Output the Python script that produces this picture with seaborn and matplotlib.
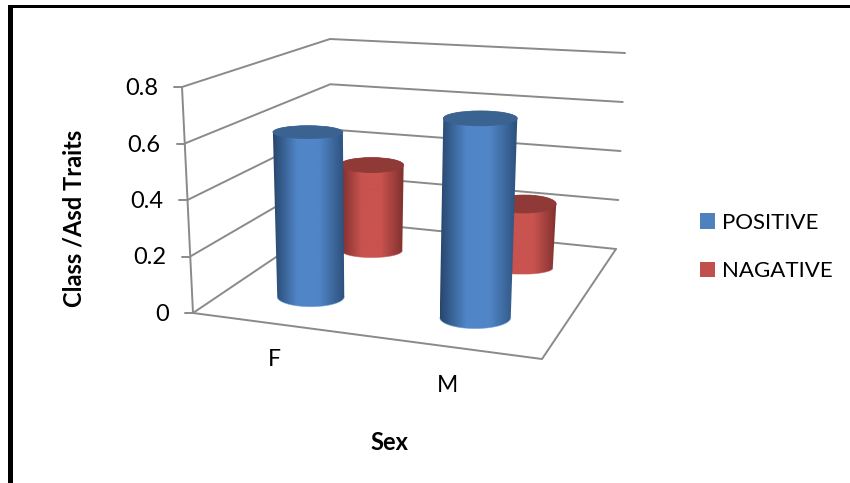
import numpy as np
import pandas as pd
import matplotlib
matplotlib.use("Agg")
import matplotlib.pyplot as plt
from matplotlib.colors import LinearSegmentedColormap
from matplotlib.patches import Patch, PathPatch, Ellipse, Rectangle
from matplotlib.path import Path
import seaborn as sns

categories = ["F", "M"]
series_names = ["POSITIVE", "NAGATIVE"]
positive = [0.61, 0.70]
negative = [0.352, 0.25]
z_ticks = [0, 0.2, 0.4, 0.6, 0.8]
z_labels = ["0", "0.2", "0.4", "0.6", "0.8"]

# --- look of the 3D box (screen position of its corners) -------------------
Z_MAX = 0.8
FLOOR = {"fl": (193, 313), "fr": (542, 359), "bl": (331, 220), "br": (616, 249)}
CEIL = {"fl": (182, 87), "fr": (553, 108), "bl": (330, 39), "br": (625, 53)}
CAT_POS = [0.25, 0.75]
DEPTH_POS = [0.25, 0.75]
HALF_W = {(0, 0): 35.0, (1, 0): 37.0, (0, 1): 32.0, (1, 1): 32.0}
B_TOP = {(0, 0): 6.5, (1, 0): 7.5, (0, 1): 7.5, (1, 1): 9.0}
B_BOT = {(0, 0): 10.0, (1, 0): 11.0, (0, 1): 7.0, (1, 1): 6.0}
NUDGE_X = {(0, 0): 0.0, (1, 0): -2.0, (0, 1): 0.0, (1, 1): 0.0}
BASE_LIFT = {(0, 0): 3.5, (1, 0): 3.5, (0, 1): 1.0, (1, 1): 0.0}
GRID = "#8a8a8a"


def project(u, v, z):
    def bil(c):
        f = (1 - u) * np.array(c["fl"], float) + u * np.array(c["fr"], float)
        b = (1 - u) * np.array(c["bl"], float) + u * np.array(c["br"], float)
        return (1 - v) * f + v * b
    t = z / Z_MAX
    return (1 - t) * bil(FLOOR) + t * bil(CEIL)


sns.set_theme(style="white", rc={"axes.grid": False})
plt.rcParams["font.family"] = ["Lato", "DejaVu Sans"]

fig = plt.figure(figsize=(8.5, 4.83), dpi=100, facecolor="white")
ax = fig.add_axes([0, 0, 1, 1])
ax.set_xlim(0, 850)
ax.set_ylim(483, 0)
ax.axis("off")

# page frame
ax.add_patch(Rectangle((8, 5), 5, 480, fc="black", ec="none", zorder=1))
ax.add_patch(Rectangle((8, 5), 842, 3, fc="black", ec="none", zorder=1))

# walls and floor
rows = []
def add_line(name, pts):
    for i, p in enumerate(pts):
        rows.append({"line": name, "order": i, "x": p[0], "y": p[1]})

for z in z_ticks:
    add_line(f"lvl{z}", [project(0, 0, z), project(0, 1, z), project(1, 1, z)])
    a = project(0, 0, z)
    add_line(f"tick{z}", [a - np.array([8, 0]), a])
add_line("vert", [project(0, 0, 0), project(0, 0, Z_MAX)])
add_line("floor", [project(0, 0, 0), project(1, 0, 0), project(1, 1, 0)])
grid_df = pd.DataFrame(rows)
sns.lineplot(data=grid_df, x="x", y="y", units="line", estimator=None, sort=False,
             color=GRID, linewidth=1.4, ax=ax, legend=False, zorder=2)
ax.set_xlim(0, 850)
ax.set_ylim(483, 0)
ax.axis("off")

# z tick labels
for z, lab in zip(z_ticks, z_labels):
    p = project(0, 0, z)
    ax.text(p[0] - 24, p[1] + 1.5, lab, ha="right", va="center", fontsize=17, color="black")

# category labels
LABEL_XY = [(274, 360), (448, 385)]
for lab, (x, y) in zip(categories, LABEL_XY):
    ax.text(x, y, lab, ha="center", va="center", fontsize=16.5, color="black")

ax.text(74, 218, "Class /Asd Traits", rotation=90, ha="center", va="center",
        fontsize=17, fontweight="bold", color="black")
ax.text(389, 442, "Sex", ha="center", va="center", fontsize=17, fontweight="bold", color="black")

STY = {
    0: dict(edge_l="#27466d", edge_r="#2d4f7a", mid="#5086c8", top="#3b6392", rim="#6a9ddc"),
    1: dict(edge_l="#7b2e2c", edge_r="#7e302e", mid="#c9534f", top="#8f3a37", rim="#cf5f5b"),
}


def cylinder(cat, ser, val, zorder):
    key = (cat, ser)
    u, v = CAT_POS[cat], DEPTH_POS[ser]
    bot = project(u, v, 0) + np.array([NUDGE_X[key], -BASE_LIFT[key]])
    top = project(u, v, val) + np.array([NUDGE_X[key], 0.0])
    a_top = HALF_W[key]
    a_bot = a_top - 1.5
    bt, bb = B_TOP[key], B_BOT[key]
    th = np.linspace(np.pi, 2 * np.pi, 60)
    upper = np.c_[top[0] + a_top * np.cos(th), top[1] + bt * np.sin(th)]
    th2 = np.linspace(0, np.pi, 60)
    lower = np.c_[bot[0] + a_bot * np.cos(th2), bot[1] + bb * np.sin(th2)]
    poly = np.r_[upper, lower]
    path = Path(np.r_[poly, poly[:1]], closed=True)
    s = STY[ser]
    cmap = LinearSegmentedColormap.from_list(
        "c", [(0, s["edge_l"]), (0.34, s["mid"]), (0.5, s["mid"]), (0.64, s["mid"]), (1, s["edge_r"])])
    x0, x1 = poly[:, 0].min(), poly[:, 0].max()
    y0, y1 = poly[:, 1].min(), poly[:, 1].max()
    grad = np.linspace(0, 1, 256)[None, :]
    im = ax.imshow(grad, cmap=cmap, extent=(x0, x1, y1, y0), aspect="auto",
                   zorder=zorder, interpolation="bilinear")
    patch = PathPatch(path, fc="none", ec="none", transform=ax.transData)
    ax.add_patch(patch)
    im.set_clip_path(patch)
    ax.plot(lower[:, 0], lower[:, 1], color=s["rim"], lw=0.6, alpha=0.6, zorder=zorder + 0.1)
    ax.add_patch(Ellipse(top, 2 * a_top, 2 * bt, fc=s["top"], ec=s["top"], lw=0.5,
                         zorder=zorder + 0.2))


cylinder(0, 1, negative[0], 3)
cylinder(1, 1, negative[1], 4)
cylinder(0, 0, positive[0], 5)
cylinder(1, 0, positive[1], 6)
ax.set_xlim(0, 850)
ax.set_ylim(483, 0)

handles = [Patch(fc="#4f81bd", ec="none", label=series_names[0]),
           Patch(fc="#c0504d", ec="none", label=series_names[1])]
ax.legend(handles=handles, frameon=False, loc="center left", bbox_to_anchor=(700, 247),
          bbox_transform=ax.transData, fontsize=16, labelcolor="black",
          handlelength=0.68, handleheight=0.68, handletextpad=0.32,
          labelspacing=1.28, borderpad=0, borderaxespad=0)

fig.savefig("out.png", dpi=100, facecolor="white")
